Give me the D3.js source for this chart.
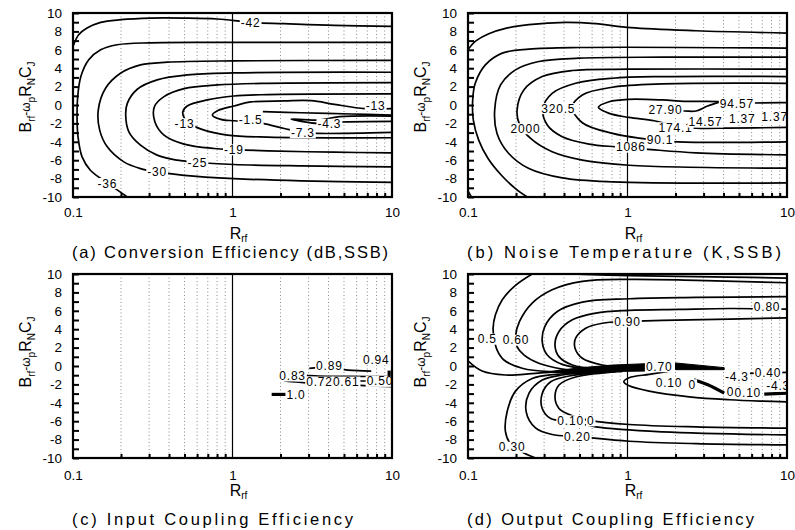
<!DOCTYPE html>
<html>
<head>
<meta charset="utf-8">
<script src="https://cdn.jsdelivr.net/npm/d3@7"></script>
<style>
  body { margin: 0; background: #fff; }
  text { font-family: "Liberation Sans", Arial, sans-serif; fill: #000; }
</style>
</head>
<body>
<div id="canvas"></div>
<script>
// ---- axes / ticks ----
var xMajor = [0.1, 1, 10];
var xMinor = [0.2, 0.3, 0.4, 0.5, 0.6, 0.7, 0.8, 0.9, 2, 3, 4, 5, 6, 7, 8, 9];
var yTicks = d3.range(-10, 11, 1);
var captions = ["(a) Conversion Efficiency (dB,SSB)", "(b) Noise Temperature (K,SSB)",
                "(c) Input Coupling Efficiency", "(d) Output Coupling Efficiency"];

// ---- (a) conversion efficiency contours, [R_rf, B] ----
var convA42 = [[0.1,6.36],[0.1085,7.64],[0.1225,8.36],[0.149,8.98],[0.199,9.27],[0.306,9.45],[0.497,9.45],[0.805,9.35],[1.3,8.98],[2.11,8.84],[4.36,8.65],[10,8.55]];
var convA36 = [[0.219,-10],[0.164,-8.47],[0.1285,-7.09],[0.114,-5.64],[0.1075,-3.45],[0.106,-1.27],[0.107,0.91],[0.112,3.09],[0.1255,4.91],[0.149,6.0],[0.189,6.55],[0.306,6.76],[1.02,6.8],[10,6.8]];
var convA30 = [[10,4.84],[1.02,4.8],[0.39,4.65],[0.265,4.36],[0.1985,3.45],[0.16,1.82],[0.144,-0.55],[0.147,-2.73],[0.164,-4.55],[0.2084,-6.18],[0.265,-6.91],[0.337,-7.27],[0.497,-7.64],[1.02,-8.0],[2.69,-8.25],[10,-8.4]];
var convA25 = [[10,3.56],[1.02,3.49],[0.521,3.27],[0.337,2.73],[0.253,1.71],[0.219,0.18],[0.214,-1.09],[0.224,-2.91],[0.265,-4.36],[0.337,-5.45],[0.451,-6.0],[0.603,-6.25],[1.02,-6.47],[2.69,-6.62],[10,-6.73]];
var convA19 = [[10,2.44],[1.66,2.36],[0.805,2.18],[0.497,1.78],[0.372,0.91],[0.324,-0.18],[0.326,-1.82],[0.372,-3.27],[0.497,-4.25],[0.767,-4.73],[1.02,-4.84],[1.66,-4.98],[4.36,-5.13],[10,-5.2]];
var convA13 = [[10,1.2],[1.66,1.13],[1.02,0.98],[0.696,0.55],[0.52,-0.11],[0.488,-0.76],[0.5,-1.45],[0.544,-2.07],[0.664,-2.73],[0.93,-3.27],[1.66,-3.49],[10,-3.56]];
var convA1 = [[10,-0.4],[6.73,-0.4],[4.36,0.07],[3.11,0.47],[2.11,0.44],[1.3,0.33],[1.02,-0.11],[0.805,-0.62],[0.748,-1.09],[0.845,-1.56],[1.02,-1.71],[1.3,-1.82],[1.55,-2.0],[2.11,-2.55],[2.76,-2.98],[3.43,-3.09],[10,-2.98]];
var convA2 = [[1.55,-0.73],[2.69,-0.84],[5.55,-0.98],[10,-1.09]];
var convA3 = [[10,-1.2],[4.69,-1.27],[3.43,-1.64],[2.33,-1.53],[3.43,-2.0],[4.69,-1.85],[10,-1.78]];
var convLabels = [["-42",1.3,8.95],["-36",0.164,-8.5],["-30",0.337,-7.27],["-25",0.603,-6.25],["-19",1.02,-4.84],
                  ["-13",0.5,-2.0],["-1.5",1.3,-1.64],["-4.3",4.05,-2.07],["-7.3",2.76,-3.0],["-13",7.9,-0.05]];

// ---- (b) noise temperature contours ----
var noiseB0 = [[0.1,6.0],[0.111,6.91],[0.135,7.75],[0.172,8.33],[0.241,8.73],[0.409,8.98],[0.632,8.84],[1.05,8.4],[2.69,8.07],[10,7.82]];
var noiseB0b = [[0.1,-9.35],[0.105,-10]];
var noiseB1 = [[10,6.18],[0.497,6.25],[0.241,6.07],[0.164,5.64],[0.1285,4.36],[0.111,2.36],[0.107,0.55],[0.108,-1.64],[0.1167,-3.82],[0.1336,-5.82],[0.162,-7.64],[0.1985,-9.09],[0.235,-10]];
var noiseB2 = [[10,5.2],[1.66,5.2],[0.497,5.09],[0.278,4.73],[0.1985,3.82],[0.16,2.18],[0.147,-0.55],[0.152,-3.09],[0.18,-5.27],[0.241,-6.91],[0.39,-7.93],[0.805,-8.36],[10,-8.47]];
var noiseB3 = [[10,3.89],[1.02,3.89],[0.451,3.75],[0.292,3.09],[0.224,1.64],[0.203,-0.55],[0.21,-2.07],[0.247,-3.64],[0.337,-5.09],[0.521,-6.0],[1.02,-6.55],[10,-6.87]];
var noiseB4 = [[10,3.09],[1.66,3.09],[0.805,2.91],[0.473,2.36],[0.337,1.27],[0.295,-0.36],[0.314,-2.18],[0.39,-3.45],[0.574,-4.25],[0.845,-4.55],[1.3,-4.8],[2.69,-5.2],[10,-5.42]];
var noiseB5 = [[10,2.36],[1.66,2.29],[0.805,1.93],[0.521,1.09],[0.451,-0.25],[0.521,-1.93],[0.805,-3.09],[1.18,-3.6],[2.06,-4.0],[10,-4.0]];
var noiseB6 = [[10,0.25],[6.26,0.22],[4.85,0.1],[3.86,0.36],[2.27,0.4],[1.66,0.55],[1.02,0.62],[0.767,0.36],[0.657,-0.25],[0.767,-0.91],[1.02,-1.35],[1.47,-1.71],[2.01,-2.29],[2.69,-2.51],[4.36,-2.51],[10,-2.44]];
var noiseB7 = [[1.66,-0.62],[2.27,-0.65],[2.69,-0.65],[3.18,-0.11],[3.86,0.36]];
var noiseLabels = [["320.5",0.368,-0.36],["2000",0.2295,-2.55],["1086",1.05,-4.55],["90.1",1.6,-3.82],["174.1",2.0,-2.44],
                   ["27.90",1.73,-0.55],["94.57",4.85,0.18],["14.57",3.08,-1.82],["1.37",5.24,-1.45],["1.37",8.36,-1.27]];

// ---- (c) input coupling efficiency contours ----
var inputC1 = [[3.03,-0.25],[3.42,-0.18],[4.05,-0.1],[4.8,-0.36],[6.11,-0.51],[7.41,-0.55]];
var inputC2 = [[10,-1.16],[5.55,-1.13],[3.43,-1.09],[2.44,-0.98],[2.11,-0.98],[2.0,-1.24],[2.11,-1.56],[2.69,-1.78],[4.36,-2.0],[7.06,-2.15],[10,-2.25]];
var inputC3 = [[1.76,-3.09],[2.2,-3.09]];
var inputC4 = [[2.9,-1.6],[5,-1.62],[10,-1.65]];
var inputC5 = [[9.6,-0.5],[9.6,-2.0]];
var inputLabels = [["0.89",4.05,0.0],["0.94",7.97,0.73],["0.83",2.38,-1.05],["0.72",3.51,-1.71],["0.61",5.16,-1.71],["0.50",8.4,-1.64],["1.0",2.5,-3.09]];

// ---- (d) output coupling efficiency contours ----
var outD0 = [[0.43,10],[1.024,9.82],[4.36,9.67],[10,9.56]];
var outD1 = [[0.2526,10],[0.1985,8.76],[0.164,7.2],[0.1486,5.56],[0.1436,4.11],[0.1464,2.84],[0.152,1.75],[0.168,0.65],[0.2188,-0.25],[0.3215,-0.62],[0.473,-0.55],[0.696,-0.44]];
var outD2 = [[10,9.05],[2.69,9.31],[1.024,9.42],[0.521,9.2],[0.337,8.29],[0.2526,6.84],[0.2104,4.84],[0.1985,3.2],[0.203,2.11],[0.224,1.2],[0.278,0.29],[0.39,-0.33],[0.574,-0.55],[0.845,-0.47]];
var outD3 = [[10,7.53],[2.69,7.45],[1.024,7.31],[0.521,6.95],[0.363,5.93],[0.303,4.29],[0.292,2.65],[0.314,1.2],[0.39,0.18],[0.574,-0.33],[1.024,-0.44]];
var outD4 = [[10,6.18],[4.36,6.25],[2.11,6.15],[1.024,6.04],[0.632,5.75],[0.451,5.02],[0.372,3.75],[0.351,2.29],[0.372,1.02],[0.451,0.11],[0.696,-0.33],[1.3,-0.36]];
var outD5 = [[10,5.24],[4.36,5.09],[1.66,4.95],[1.0,4.84],[0.696,4.65],[0.547,4.11],[0.473,3.02],[0.469,1.93],[0.521,0.84],[0.696,0.11],[1.13,-0.25],[1.66,-0.33]];
var outLeft = [[0.1,0.55],[0.1225,-0.55],[0.1717,-0.98],[0.265,-0.8],[0.43,-0.55],[0.696,-0.47]];
var out030 = [[0.696,-0.69],[0.354,-0.91],[0.2526,-1.35],[0.1985,-2.73],[0.176,-4.95],[0.1717,-7.13],[0.1846,-8.44],[0.2188,-9.35],[0.265,-10]];
var out020 = [[0.767,-0.62],[0.39,-0.98],[0.292,-1.53],[0.241,-2.98],[0.2317,-4.98],[0.265,-6.73],[0.337,-7.45],[0.485,-7.67],[1.024,-8.18],[2.69,-8.44],[10,-8.58]];
var out010 = [[0.845,-0.62],[0.43,-1.09],[0.33,-1.71],[0.292,-2.98],[0.292,-4.62],[0.33,-5.71],[0.44,-6.0],[0.632,-6.62],[1.66,-7.16],[10,-7.49]];
var out0 = [[0.93,-0.58],[0.473,-1.2],[0.372,-2.07],[0.351,-3.35],[0.372,-4.62],[0.451,-5.42],[0.588,-5.93],[1.024,-6.36],[2.69,-6.62],[10,-6.76]];
var outLoop = [[1.8,-0.6],[1.368,-0.91],[1.024,-1.27],[0.948,-1.71],[1.024,-2.15],[1.368,-2.73],[2.44,-3.35],[4.36,-3.67],[7.06,-3.82],[10,-3.89]];
var outS1 = [[2.61,-1.49],[3.19,-2.04],[4.04,-2.95]];
var outS2 = [[7.2,-3.05],[10,-2.95]];
var outS3 = [[5.83,-0.8],[10,-0.69]];
var outWedge = [[0.29,-0.7],[0.5,-0.2],[0.8,0.1],[1.3,0.25],[1.3,-0.55],[0.8,-0.6],[0.5,-0.7]];
var outBar = [[2.0,0.33],[4.04,-0.18],[4.04,-0.4],[2.0,-0.4]];
var outLabels = [["0.5",0.132,2.95],["0.60",0.2,2.84],["0.90",1.0,4.84],["0.80",7.5,6.4],["0.70",1.58,-0.04],
                 ["-4.3",4.85,-1.13],["0.40",7.6,-0.75],["0.10",1.82,-1.85],["0",2.55,-2.0],["0",4.43,-2.8],
                 ["0.10",5.68,-2.95],["-4.3",8.8,-2.15],["0.10",0.44,-5.93],["0",0.588,-5.93],["0.20",0.485,-7.67],["0.30",0.189,-8.8]];

// ---- panel placement ----
var boxes = [
  {x0: 73,  x1: 392, y0: 13,  y1: 197, tickY: 10, titleY: 239, capY: 258, ytY: 97},
  {x0: 468, x1: 787, y0: 13,  y1: 197, tickY: 10, titleY: 239, capY: 258, ytY: 97},
  {x0: 73,  x1: 392, y0: 274, y1: 458, tickY: 12, titleY: 496, capY: 525, ytY: 352},
  {x0: 468, x1: 787, y0: 274, y1: 458, tickY: 12, titleY: 496, capY: 525, ytY: 352}
];
var capWidths = [316, 314, 281, 287];

var panels = [
  {lines: [convA42, convA36, convA30, convA25, convA19, convA13, convA1, convA2, convA3], thick: [], fills: [], labels: convLabels},
  {lines: [noiseB0, noiseB0b, noiseB1, noiseB2, noiseB3, noiseB4, noiseB5, noiseB6, noiseB7], thick: [], fills: [], labels: noiseLabels},
  {lines: [inputC1, inputC2, inputC4], thick: [inputC3, inputC5], fills: [], labels: inputLabels},
  {lines: [outD0, outD1, outD2, outD3, outD4, outD5, outLeft, out030, out020, out010, out0, outLoop, outS3], thick: [outS1, outS2], fills: [outWedge, outBar], labels: outLabels}
];

var svg = d3.select('#canvas').append('svg')
  .attr('width', 795)
  .attr('height', 530);

function drawPanel(p, box, i) {
  var x = d3.scaleLog().domain([0.1, 10]).range([box.x0, box.x1]);
  var y = d3.scaleLinear().domain([-10, 10]).range([box.y1, box.y0]);
  var g = svg.append('g');

  svg.append('clipPath').attr('id', 'clip' + i)
    .append('rect')
    .attr('x', box.x0).attr('y', box.y0)
    .attr('width', box.x1 - box.x0).attr('height', box.y1 - box.y0);

  // dotted grid at minor decades
  g.selectAll('line.grid').data(xMinor).enter().append('line')
    .attr('class', 'grid')
    .attr('x1', function (d) { return x(d); })
    .attr('x2', function (d) { return x(d); })
    .attr('y1', box.y0).attr('y2', box.y1)
    .attr('stroke', '#8a8a8a')
    .attr('stroke-width', 1)
    .attr('stroke-dasharray', '1,2.5');

  // solid line at R=1
  g.append('line')
    .attr('x1', x(1)).attr('x2', x(1))
    .attr('y1', box.y0).attr('y2', box.y1)
    .attr('stroke', '#000').attr('stroke-width', 1.2);

  var line = d3.line()
    .x(function (d) { return x(d[0]); })
    .y(function (d) { return y(d[1]); })
    .curve(d3.curveCatmullRom.alpha(0.5));
  var area = d3.line()
    .x(function (d) { return x(d[0]); })
    .y(function (d) { return y(d[1]); })
    .curve(d3.curveLinearClosed);

  var cg = g.append('g').attr('clip-path', 'url(#clip' + i + ')');
  cg.selectAll('path.c').data(p.lines).enter().append('path')
    .attr('class', 'c')
    .attr('d', line)
    .attr('fill', 'none')
    .attr('stroke', '#000')
    .attr('stroke-width', 1.7);
  cg.selectAll('path.t').data(p.thick).enter().append('path')
    .attr('class', 't')
    .attr('d', line)
    .attr('fill', 'none')
    .attr('stroke', '#000')
    .attr('stroke-width', 3.2);
  cg.selectAll('path.f').data(p.fills).enter().append('path')
    .attr('class', 'f')
    .attr('d', area)
    .attr('fill', '#000')
    .attr('stroke', '#000')
    .attr('stroke-width', 1);

  // contour labels with knock-out
  var lg = cg.selectAll('g.lab').data(p.labels).enter().append('g').attr('class', 'lab');
  lg.append('rect').attr('fill', '#fff');
  var texts = lg.append('text')
    .attr('x', function (d) { return x(d[1]); })
    .attr('y', function (d) { return y(d[2]); })
    .attr('dy', '0.36em')
    .attr('text-anchor', 'middle')
    .style('font-size', '12px')
    .style('letter-spacing', '0.8px')
    .text(function (d) { return d[0]; });
  texts.each(function () {
    var bb = this.getBBox();
    d3.select(this.parentNode).select('rect')
      .attr('x', bb.x - 1).attr('y', bb.y + 1.5)
      .attr('width', bb.width + 2).attr('height', bb.height - 3);
  });

  // axes
  var minorAx = g.append('g')
    .attr('transform', 'translate(0,' + box.y1 + ')')
    .call(d3.axisBottom(x).tickValues(xMinor).tickSize(-4).tickFormat(''));
  minorAx.select('.domain').remove();
  minorAx.selectAll('line').attr('stroke-width', 2);

  var majorAx = g.append('g')
    .attr('transform', 'translate(0,' + box.y1 + ')')
    .call(d3.axisBottom(x).tickValues(xMajor).tickSize(0).tickPadding(box.tickY)
      .tickFormat(function (d) { return String(d); }));
  majorAx.select('.domain').remove();
  majorAx.selectAll('text').style('font-size', '13.5px').attr('font-family', null);

  var yAx = g.append('g')
    .attr('transform', 'translate(' + box.x0 + ',0)')
    .call(d3.axisLeft(y).tickValues(yTicks).tickSize(-6).tickPadding(11)
      .tickFormat(function (d) { return d % 2 === 0 ? d : ''; }));
  yAx.select('.domain').remove();
  yAx.selectAll('line').attr('stroke-width', 2);
  yAx.selectAll('text').style('font-size', '13.5px').attr('font-family', null);

  // frame
  g.append('rect')
    .attr('x', box.x0).attr('y', box.y0)
    .attr('width', box.x1 - box.x0).attr('height', box.y1 - box.y0)
    .attr('fill', 'none').attr('stroke', '#000').attr('stroke-width', 2.2);

  // x title R_rf
  var xt = g.append('text')
    .attr('x', x(1) + 6).attr('y', box.titleY)
    .attr('text-anchor', 'middle')
    .style('font-size', '16px');
  xt.append('tspan').text('R');
  xt.append('tspan').attr('dy', 3).style('font-size', '10px').text('rf');

  // y title B_rf - w_p R_N C_J
  var yt = g.append('text')
    .attr('transform', 'translate(' + (box.x0 - 42) + ',' + box.ytY + ') rotate(-90)')
    .attr('text-anchor', 'middle')
    .style('font-size', '16px');
  yt.append('tspan').text('B');
  yt.append('tspan').attr('dy', 4).style('font-size', '10px').text('rf');
  yt.append('tspan').attr('dy', -5).style('font-size', '12px').text('-ω');
  yt.append('tspan').attr('dy', 5).style('font-size', '10px').text('p');
  yt.append('tspan').attr('dy', -4).text('R');
  yt.append('tspan').attr('dy', 4).style('font-size', '10px').text('N');
  yt.append('tspan').attr('dy', -4).text('C');
  yt.append('tspan').attr('dy', 4).style('font-size', '10px').text('J');

  // caption
  g.append('text')
    .attr('x', box.x0 - 1).attr('y', box.capY)
    .attr('textLength', capWidths[i])
    .attr('lengthAdjust', 'spacing')
    .style('font-size', '16.5px')
    .text(captions[i]);
}

panels.forEach(function (p, i) { drawPanel(p, boxes[i], i); });
</script>
</body>
</html>
